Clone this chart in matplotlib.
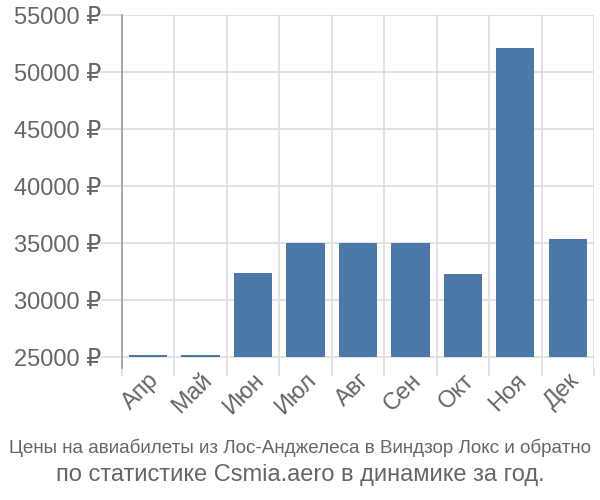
import numpy as np
import matplotlib
matplotlib.use("Agg")
import matplotlib.pyplot as plt
from matplotlib.ticker import FuncFormatter, FixedLocator

plt.rcParams['font.family'] = ['Liberation Sans', 'DejaVu Sans']

# monthly prices, rubles
months = ['Апр', 'Май', 'Июн', 'Июл', 'Авг', 'Сен', 'Окт', 'Ноя', 'Дек']
prices = [25150, 25150, 32380, 35000, 35000, 35000, 32280, 52080, 35330]
yticks = [25000, 30000, 35000, 40000, 45000, 50000, 55000]
title_line1 = 'Цены на авиабилеты из Лос-Анджелеса в Виндзор Локс и обратно'
title_line2 = 'по статистике Csmia.aero в динамике за год.'

base = 25000
text_color = '#666666'
grid_color = '#dddddd'

fig = plt.figure(figsize=(6, 5), dpi=100)
ax = fig.add_axes([0.203, 0.264, 0.787, 0.706])

x = np.arange(len(months))
ax.bar(x, np.array(prices) - base, bottom=base, width=0.73,
       color='#4c78a8', zorder=3)

ax.set_xlim(-0.5, len(months) - 0.5)
ax.set_ylim(24050, 55000)

ax.yaxis.set_major_locator(FixedLocator(yticks))
ax.yaxis.set_major_formatter(FuncFormatter(lambda v, p: f'{int(v)} ₽'))
ax.grid(axis='y', color=grid_color, linewidth=1.2, zorder=0)

# category boundaries as gridlines, labels at centers
ax.set_xticks(x)
ax.set_xticklabels(months, rotation=45, ha='right', va='top',
                   rotation_mode='anchor')
ax.set_xticks(np.arange(len(months) + 1) - 0.5, minor=True)
ax.tick_params(axis='x', which='major', length=0, pad=1,
               labelsize=17, labelcolor=text_color)
ax.tick_params(axis='x', which='minor', length=6, color=grid_color, width=1.2)
ax.grid(axis='x', which='minor', color=grid_color, linewidth=1.2, zorder=0)
ax.tick_params(axis='y', length=15, color=grid_color, width=1.2,
               labelsize=17, labelcolor=text_color, pad=0)

for side in ['top', 'right', 'bottom']:
    ax.spines[side].set_visible(False)
ax.spines['left'].set_color('#999999')
ax.spines['left'].set_linewidth(1.2)

fig.text(0.5, 0.105, title_line1, ha='center', va='center', fontsize=13.6,
         color=text_color)
fig.text(0.5, 0.05, title_line2, ha='center', va='center', fontsize=17,
         color=text_color)

fig.savefig('out.png', dpi=100)
